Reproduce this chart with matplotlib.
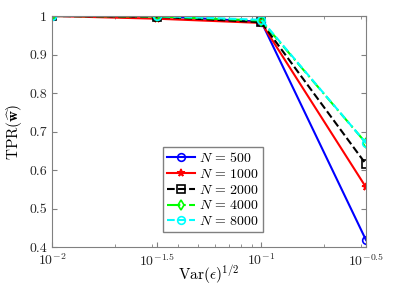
import numpy as np
import matplotlib
matplotlib.use("Agg")
import matplotlib.pyplot as plt

plt.rcParams['mathtext.fontset'] = 'cm'
plt.rcParams['font.family'] = 'serif'
plt.rcParams['font.serif'] = ['cmr10', 'DejaVu Serif']
plt.rcParams['axes.formatter.use_mathtext'] = True

x_exp = [-2, -1.5, -1, -0.5]
x_labels = [r'$10^{-2}$', r'$10^{-1.5}$', r'$10^{-1}$', r'$10^{-0.5}$']
series_names = ['500', '1000', '2000', '4000', '8000']
tpr_500 = [1.0, 1.0, 0.985, 0.418]
tpr_1000 = [1.0, 0.993, 0.982, 0.555]
tpr_2000 = [1.0, 0.998, 0.984, 0.615]
tpr_4000 = [1.0, 0.999, 0.988, 0.670]
tpr_8000 = [1.0, 1.0, 0.990, 0.670]
series = [tpr_500, tpr_1000, tpr_2000, tpr_4000, tpr_8000]
colors = ['#0000ff', '#ff0000', '#000000', '#00ff00', '#00ffff']
markers = ['o', '*', 's', 'd', 'o']
styles = ['-', '-', '--', '-.', '--']

x = [10 ** e for e in x_exp]

fig = plt.figure(figsize=(3.95, 2.87), dpi=100)
ax = fig.add_axes([52/395, 40/287, 314/395, 231/287])
for vals, c, m, ls, name in zip(series, colors, markers, styles, series_names):
    ax.plot(x, vals, color=c, marker=m, linestyle=ls, linewidth=1.5,
            markersize=5.5, markerfacecolor='none', markeredgewidth=1.2,
            label=r'$N\,=\,%s$' % name)

ax.set_xscale('log')
ax.set_xlim(1e-2, 10 ** -0.5)
ax.set_ylim(0.4, 1.0)
ax.set_xticks(x)
ax.set_xticklabels(x_labels)
ax.set_yticks([0.4, 0.5, 0.6, 0.7, 0.8, 0.9, 1.0])
ax.set_yticklabels(['0.4', '0.5', '0.6', '0.7', '0.8', '0.9', '1'])
ax.tick_params(which='both', direction='in', top=True, right=True, colors='#808080',
               labelsize=10, labelcolor='#262626')
ax.tick_params(axis='x', pad=4)
ax.tick_params(which='minor', length=2)
for s in ax.spines.values():
    s.set_color('#808080')
ax.set_xlabel(r'$\mathrm{Var}(\epsilon)^{1/2}$', fontsize=11)
ax.xaxis.set_label_coords(0.5, -0.07, transform=ax.transAxes)
ax.xaxis.label.set_va('top')
ax.set_ylabel(r'$\mathrm{TPR}(\widehat{\mathbf{w}})$', fontsize=11, labelpad=4)
leg = ax.legend(loc='upper left', bbox_to_anchor=(0.353, 0.433), fontsize=10,
                fancybox=False, framealpha=1, edgecolor='#808080',
                handlelength=2.0, borderpad=0.3, labelspacing=0.2, handletextpad=0.3,
                borderaxespad=0)
fig.savefig('out.png', dpi=100)
